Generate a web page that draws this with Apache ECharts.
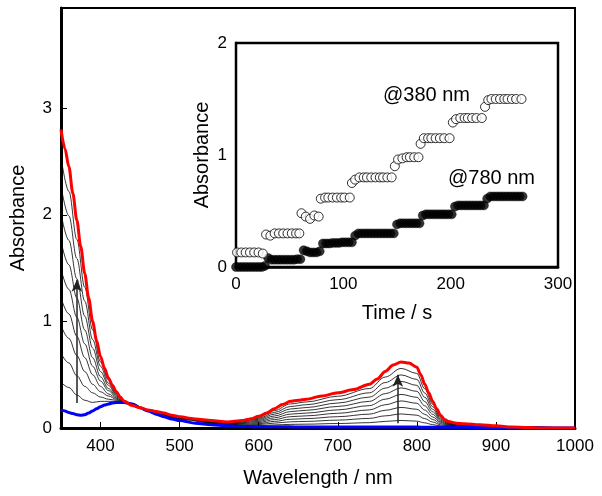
<!DOCTYPE html>
<html><head><meta charset="utf-8">
<script src="https://cdn.jsdelivr.net/npm/echarts@6/dist/echarts.min.js"></script>
<style>html,body{margin:0;padding:0;background:#fff}#c{width:602px;height:496px}</style>
</head><body><div id="c"></div>
<script>
// ---- main spectra (Wavelength / nm vs Absorbance) ----
var wlFull = [350,355,360,365,370,375,380,385,390,395,400,405,410,415,420,425,430,440,450,460,470,480,490,500,520,540,560,580,590,600,610,620,630,640,650,660,680,700,720,740,750,760,770,780,790,800,805,810,815,820,825,830,835,840,850,860,880,900,920,940,960,1000];
var finalSpec = [2.80,2.62,2.45,2.20,1.95,1.70,1.45,1.22,1.00,0.82,0.67,0.56,0.47,0.40,0.34,0.29,0.25,0.21,0.19,0.17,0.155,0.14,0.12,0.105,0.085,0.07,0.056,0.07,0.085,0.11,0.14,0.18,0.22,0.25,0.26,0.27,0.30,0.33,0.36,0.41,0.46,0.53,0.59,0.62,0.61,0.57,0.50,0.41,0.33,0.25,0.18,0.12,0.08,0.06,0.045,0.04,0.03,0.02,0.01,0.004,0.0,0.0];
var initialSpec = [0.17,0.16,0.145,0.135,0.125,0.12,0.125,0.14,0.16,0.18,0.20,0.215,0.225,0.235,0.24,0.24,0.24,0.225,0.19,0.16,0.13,0.105,0.085,0.07,0.045,0.03,0.02,0.015,0.013,0.012,0.012,0.012,0.011,0.011,0.01,0.01,0.01,0.01,0.01,0.01,0.01,0.01,0.01,0.01,0.01,0.01,0.008,0.008,0.008,0.008,0.008,0.008,0.008,0.008,0.007,0.006,0.005,0.004,0.003,0.002,0.001,0.0];
var wlMid = [350,360,370,380,390,400,410,420,430,440,460,500,560,600,620,640,660,700,740,760,780,800,810,820,830,840,860,900,1000];
var mid1 = [0.43,0.38,0.31,0.26,0.24,0.25,0.25,0.25,0.24,0.23,0.16,0.08,0.024,0.022,0.029,0.034,0.036,0.042,0.05,0.062,0.071,0.064,0.048,0.032,0.019,0.013,0.009,0.006,0];
var mid2 = [0.70,0.61,0.49,0.39,0.33,0.29,0.27,0.26,0.24,0.23,0.16,0.085,0.027,0.032,0.046,0.058,0.062,0.074,0.09,0.114,0.132,0.12,0.088,0.056,0.03,0.018,0.012,0.007,0];
var mid3 = [0.96,0.84,0.68,0.53,0.41,0.34,0.30,0.27,0.24,0.22,0.16,0.09,0.031,0.041,0.062,0.082,0.088,0.106,0.13,0.166,0.193,0.176,0.128,0.08,0.041,0.023,0.015,0.008,0];
var mid4 = [1.22,1.07,0.86,0.66,0.50,0.39,0.32,0.28,0.24,0.22,0.16,0.09,0.034,0.051,0.079,0.106,0.114,0.138,0.17,0.218,0.254,0.232,0.168,0.104,0.052,0.028,0.018,0.009,0];
var mid5 = [1.49,1.30,1.04,0.79,0.58,0.44,0.35,0.29,0.245,0.22,0.165,0.09,0.038,0.061,0.096,0.13,0.14,0.17,0.21,0.27,0.315,0.288,0.208,0.128,0.063,0.033,0.021,0.01,0];
var mid6 = [1.75,1.53,1.22,0.92,0.66,0.48,0.37,0.30,0.25,0.22,0.165,0.095,0.042,0.071,0.113,0.154,0.166,0.202,0.25,0.322,0.376,0.344,0.248,0.152,0.074,0.038,0.024,0.011,0];
var mid7 = [2.01,1.76,1.40,1.05,0.75,0.53,0.40,0.31,0.25,0.22,0.17,0.10,0.045,0.081,0.13,0.178,0.192,0.234,0.29,0.374,0.437,0.40,0.288,0.176,0.085,0.043,0.027,0.012,0];
var mid8 = [2.27,1.99,1.59,1.19,0.83,0.58,0.42,0.32,0.25,0.21,0.17,0.10,0.049,0.09,0.146,0.202,0.218,0.266,0.33,0.426,0.498,0.456,0.328,0.20,0.096,0.048,0.03,0.013,0];
var mid9 = [2.54,2.22,1.77,1.32,0.92,0.62,0.45,0.33,0.25,0.21,0.17,0.10,0.052,0.10,0.163,0.226,0.244,0.298,0.37,0.478,0.559,0.512,0.368,0.224,0.107,0.053,0.033,0.014,0];
var midSpecs = [mid1,mid2,mid3,mid4,mid5,mid6,mid7,mid8,mid9];
var arrowUV = [[370,0.235],[370,1.39]];
var arrowNIR = [[776,0.045],[776,0.50]];
var mainXLabels = [400,500,600,700,800,900,1000];
var mainXTicks = [400,500,600,700,800,900];
var mainYLabels = [0,1,2,3];
var mainYTicks = [1,2,3];

// ---- inset kinetics (Time / s vs Absorbance) ----
var t380 = [1,5,9,13,17,21,25, 28,32,36,40,44,48,52,56,59, 61,65,69,73,77, 79,83,86,90,94,98,101,106, 108,111,115,119,122,126,130,134,137,141,145, 148,151,155,159,162,166,170, 172,175,179,182,186,190,194,199, 202,205,209,213,216,220,224,229, 232,235,238,242,246,250,253,257,261,266];
var a380 = [0.13,0.13,0.13,0.13,0.13,0.13,0.12, 0.29,0.28,0.30,0.30,0.30,0.30,0.30,0.30,0.30, 0.48,0.45,0.43,0.46,0.45, 0.61,0.62,0.62,0.62,0.62,0.62,0.62,0.62, 0.75,0.78,0.80,0.80,0.80,0.80,0.80,0.80,0.80,0.80,0.80, 0.90,0.96,0.97,0.98,0.98,0.98,0.98, 1.10,1.15,1.15,1.15,1.15,1.15,1.15,1.15, 1.29,1.32,1.33,1.33,1.33,1.33,1.33,1.33, 1.43,1.49,1.50,1.50,1.50,1.50,1.50,1.50,1.50,1.50];
var t780 = [0,3,6,9,12,15,18,21,24,27,30,33,36,39,42,45,48,51,54,57,60,63,66,69,72,75,78,81,84,87,90,93,96,99,102,105,108,111,114,117,120,123,126,129,132,135,138,141,144,147,150,153,156,159,162,165,168,171,174,177,180,183,186,189,192,195,198,201,204,207,210,213,216,219,222,225,228,231,234,237,240,243,246,249,252,255,258,261,264,267];
var a780 = [0,0,0,0,0,0,0,0,0,0.01, 0.08, 0.065,0.065,0.065,0.065,0.065,0.065,0.065,0.065,0.07,0.07, 0.15,0.14,0.13,0.13,0.13,0.14, 0.21,0.21,0.21,0.215,0.215,0.215,0.22,0.22,0.22,0.22, 0.28, 0.30,0.30,0.30,0.30,0.30,0.30,0.30,0.30,0.30,0.30,0.30,0.30, 0.38, 0.39,0.39,0.39,0.39,0.39,0.39,0.39, 0.46, 0.47,0.47,0.47,0.47,0.47,0.47,0.47,0.47,0.47, 0.54, 0.55,0.55,0.55,0.55,0.55,0.55,0.55,0.55,0.55, 0.61, 0.63,0.63,0.63,0.63,0.63,0.63,0.63,0.63,0.63,0.63,0.63];
var insetXLabels = [0,100,200,300];
var insetXTicks = [100,200];
var insetYLabels = [0,1,2];
var insetYTicks = [1];

function pairs(xs, ys){ return xs.map(function(x,i){ return [x, ys[i]]; }); }
function plain(v){ return String(v); }

var FONT = 'Liberation Sans, Arial, Helvetica, sans-serif';
var chart = echarts.init(document.getElementById('c'), null, {renderer:'canvas'});

var series = [];
midSpecs.forEach(function(s){
  series.push({type:'line', xAxisIndex:0, yAxisIndex:0, data:pairs(wlMid, s), showSymbol:false,
    smooth:0.35, smoothMonotone:'x', lineStyle:{color:'#000', width:0.8}, silent:true, z:2});
});
series.push({type:'line', xAxisIndex:0, yAxisIndex:0, data:pairs(wlFull, initialSpec), showSymbol:false,
  smooth:0.3, smoothMonotone:'x', lineStyle:{color:'#0000ff', width:3}, z:3});
series.push({type:'line', xAxisIndex:0, yAxisIndex:0, data:pairs(wlFull, finalSpec), showSymbol:false,
  smooth:0.3, smoothMonotone:'x', lineStyle:{color:'#ff0000', width:3}, z:4,
  markLine:{silent:true, symbol:['none','arrow'], symbolSize:[8,12], label:{show:false},
    lineStyle:{color:'#222', width:1.5, type:'solid'},
    data:[[{coord:arrowUV[0]},{coord:arrowUV[1]}],[{coord:arrowNIR[0]},{coord:arrowNIR[1]}]]}});
series.push({type:'scatter', xAxisIndex:1, yAxisIndex:1, data:pairs(t780, a780), symbol:'circle', symbolSize:9, clip:false,
  itemStyle:{color:'#000', borderColor:'#000', borderWidth:0.5}, z:5});
series.push({type:'scatter', xAxisIndex:1, yAxisIndex:1, data:pairs(t380, a380), symbol:'circle', symbolSize:9, clip:false,
  itemStyle:{color:'#fff', borderColor:'#000', borderWidth:1}, z:6});

chart.setOption({
  animation:false,
  backgroundColor:'#fff',
  textStyle:{fontFamily:FONT},
  grid:[
    {left:61, right:27, top:8, bottom:68, containLabel:false, outerBoundsMode:'none', show:true, borderColor:'#000', borderWidth:2, backgroundColor:'transparent', z:0},
    {left:236, right:44, top:43, bottom:229, containLabel:false, outerBoundsMode:'none', show:true, borderColor:'#000', borderWidth:2.5, backgroundColor:'#fff', z:1}
  ],
  xAxis:[
    {type:'value', gridIndex:0, min:350, max:1000, name:'Wavelength / nm', nameLocation:'middle', nameGap:40, nameMoveOverlap:false,
      nameTextStyle:{fontSize:20, color:'#000', fontFamily:FONT},
      axisLine:{show:true, onZero:false, lineStyle:{color:'#000', width:3}},
      axisTick:{show:true, inside:true, length:6, customValues:mainXTicks, lineStyle:{color:'#000', width:1}},
      axisLabel:{show:true, margin:10, fontSize:17, color:'#000', fontFamily:FONT, customValues:mainXLabels, formatter:plain},
      splitLine:{show:false}},
    {type:'value', gridIndex:1, min:0, max:300, name:'Time / s', nameLocation:'middle', nameGap:36, nameMoveOverlap:false,
      nameTextStyle:{fontSize:20, color:'#000', fontFamily:FONT},
      axisLine:{show:true, onZero:false, lineStyle:{color:'#000', width:2.5}},
      axisTick:{show:true, inside:true, length:6, customValues:insetXTicks, lineStyle:{color:'#000', width:1}},
      axisLabel:{show:true, margin:9, fontSize:17, color:'#000', fontFamily:FONT, customValues:insetXLabels, formatter:plain},
      splitLine:{show:false}}
  ],
  yAxis:[
    {type:'value', gridIndex:0, min:0, max:3.94, name:'Absorbance', nameLocation:'middle', nameGap:33, nameMoveOverlap:false,
      nameTextStyle:{fontSize:20, color:'#000', fontFamily:FONT},
      axisLine:{show:true, onZero:false, lineStyle:{color:'#000', width:3}},
      axisTick:{show:true, inside:true, length:6, customValues:mainYTicks, lineStyle:{color:'#000', width:1}},
      axisLabel:{show:true, margin:9, fontSize:17, color:'#000', fontFamily:FONT, customValues:mainYLabels, formatter:plain},
      splitLine:{show:false}},
    {type:'value', gridIndex:1, min:0, max:2, name:'Absorbance', nameLocation:'middle', nameGap:24, nameMoveOverlap:false,
      nameTextStyle:{fontSize:20, color:'#000', fontFamily:FONT},
      axisLine:{show:true, onZero:false, lineStyle:{color:'#000', width:2.5}},
      axisTick:{show:true, inside:true, length:6, customValues:insetYTicks, lineStyle:{color:'#000', width:1}},
      axisLabel:{show:true, margin:9, fontSize:17, color:'#000', fontFamily:FONT, customValues:insetYLabels, formatter:plain},
      splitLine:{show:false}}
  ],
  graphic:[
    {type:'text', left:383, top:85, z:100, style:{text:'@380 nm', font:'20px ' + FONT, fill:'#000'}},
    {type:'text', left:448, top:168, z:100, style:{text:'@780 nm', font:'20px ' + FONT, fill:'#000'}}
  ],
  series:series
});
</script></body></html>
